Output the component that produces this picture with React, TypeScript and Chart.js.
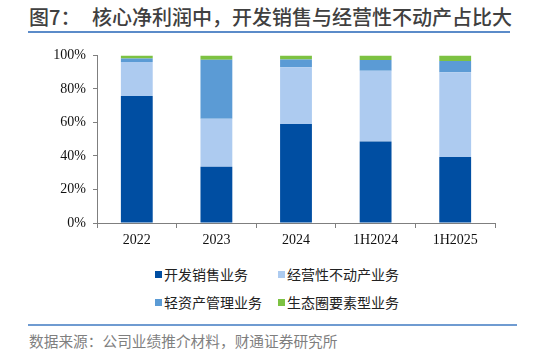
import React, { useEffect, useRef } from "react";
import { Chart, registerables } from "chart.js";
Chart.register(...registerables);

const categories = ["2022", "2023", "2024", "1H2024", "1H2025"];
const devSales = [75.8, 33.6, 59.0, 48.7, 39.4];
const operatingProperty = [20.2, 28.6, 33.9, 42.2, 50.5];
const assetLight = [2.2, 35.2, 4.7, 6.3, 6.7];
const ecosystem = [1.8, 2.6, 2.4, 2.8, 3.4];
const seriesNames = ["开发销售业务", "经营性不动产业务", "轻资产管理业务", "生态圈要素型业务"];
const seriesColors = ["#004EA2", "#ADCBF0", "#5B9BD5", "#7DC242"];
const yMax = 100;
const yStep = 20;

const CJK = '"Noto Sans CJK SC", "Noto Sans", sans-serif';
const SERIF = '"Liberation Serif", "Times New Roman", serif';

export default function App() {
  const canvasRef = useRef<HTMLCanvasElement | null>(null);

  useEffect(() => {
    if (!canvasRef.current) return;
    const values = [devSales, operatingProperty, assetLight, ecosystem];
    const chart = new Chart(canvasRef.current, {
      type: "bar",
      data: {
        labels: categories,
        datasets: values.map((v, i) => ({
          label: seriesNames[i],
          data: v,
          backgroundColor: seriesColors[i],
          borderWidth: 0,
          barPercentage: 0.4,
          categoryPercentage: 1,
        })),
      },
      options: {
        animation: false,
        responsive: true,
        maintainAspectRatio: false,
        layout: { padding: { left: 0, right: 38, top: 15, bottom: 0 } },
        plugins: { legend: { display: false }, tooltip: { enabled: false } },
        scales: {
          x: {
            stacked: true,
            offset: true,
            border: { display: true, color: "#7f7f7f", width: 1 },
            grid: {
              display: true,
              offset: true,
              drawOnChartArea: false,
              drawTicks: true,
              tickLength: 5,
              color: "#7f7f7f",
            },
            ticks: {
              padding: 4,
              color: "#111",
              font: { family: SERIF, size: 14 },
              maxRotation: 0,
            },
            afterFit: (s: any) => {
              s.height = 30;
            },
          },
          y: {
            stacked: true,
            min: 0,
            max: yMax,
            border: { display: true, color: "#7f7f7f", width: 1 },
            grid: {
              display: true,
              drawOnChartArea: false,
              drawTicks: true,
              tickLength: 4,
              color: "#7f7f7f",
            },
            ticks: {
              stepSize: yStep,
              padding: 7,
              color: "#111",
              font: { family: SERIF, size: 14 },
              callback: (v: any) => v + "%",
            },
            afterFit: (s: any) => {
              s.width = 97;
            },
          },
        },
      },
    });
    return () => chart.destroy();
  }, []);

  const legendPos = [
    { left: 155, top: 274 },
    { left: 278, top: 274 },
    { left: 155, top: 302 },
    { left: 278, top: 302 },
  ];

  return (
    <div
      style={{
        position: "absolute",
        left: 0,
        top: 0,
        width: 533,
        height: 355,
        background: "#fff",
        overflow: "hidden",
        fontFamily: CJK,
      }}
    >
      <div
        style={{
          position: "absolute",
          left: 29,
          top: 4,
          fontSize: 20,
          lineHeight: "26px",
          fontWeight: 500,
          color: "#404040",
          whiteSpace: "nowrap",
        }}
      >
        图7：
      </div>
      <div
        style={{
          position: "absolute",
          left: 92,
          top: 4,
          fontSize: 20,
          lineHeight: "26px",
          fontWeight: 500,
          color: "#404040",
          whiteSpace: "nowrap",
        }}
      >
        核心净利润中，开发销售与经营性不动产占比大
      </div>
      <div style={{ position: "absolute", left: 28, top: 31, width: 482, height: 2, background: "#5B8BC9" }} />
      <div style={{ position: "absolute", left: 0, top: 40, width: 533, height: 213 }}>
        <canvas ref={canvasRef} />
      </div>
      {seriesNames.map((name, i) => (
        <div
          key={name}
          style={{
            position: "absolute",
            left: legendPos[i].left,
            top: legendPos[i].top - 9,
            height: 18,
            display: "flex",
            alignItems: "center",
            whiteSpace: "nowrap",
          }}
        >
          <span style={{ display: "inline-block", width: 7, height: 7, background: seriesColors[i], marginRight: 2 }} />
          <span style={{ fontSize: 14, lineHeight: "18px", color: "#222" }}>{name}</span>
        </div>
      ))}
      <div style={{ position: "absolute", left: 28, top: 324, width: 489, height: 2, background: "#6F9BD1" }} />
      <div
        style={{
          position: "absolute",
          left: 29,
          top: 332,
          fontSize: 14.7,
          lineHeight: "18px",
          color: "#7f7f7f",
          whiteSpace: "nowrap",
        }}
      >
        数据来源：公司业绩推介材料，财通证券研究所
      </div>
    </div>
  );
}
